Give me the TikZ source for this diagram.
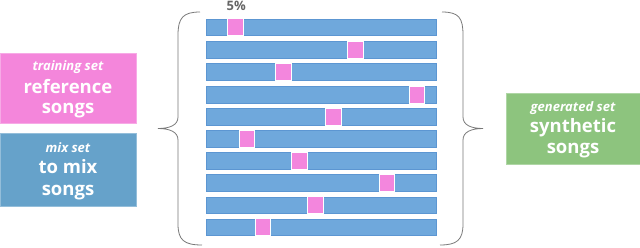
\documentclass[tikz,border=0pt]{standalone}
\usepackage{fontspec}
\setmainfont{Open Sans}
\definecolor{boxpink}{RGB}{244,134,219}
\definecolor{boxblue}{RGB}{102,162,202}
\definecolor{boxgreen}{RGB}{141,196,126}
\definecolor{barblue}{RGB}{111,168,220}
\definecolor{barline}{RGB}{92,150,210}
\definecolor{barpink}{RGB}{243,134,221}
\definecolor{bracegray}{RGB}{120,120,120}
\begin{document}
\begin{tikzpicture}[x=1pt,y=-1pt,
  setbox/.style={draw=#1!70!white, line width=0.8pt, fill=#1, inner sep=0pt},
  small/.style={text=white, font=\fontsize{13}{15}\selectfont\bfseries\itshape, anchor=base, inner sep=0pt},
  big/.style={text=white, font=\fontsize{18.5}{22}\selectfont\bfseries, anchor=base, inner sep=0pt},
  brace/.style={draw=bracegray, line width=0.8pt}]
\useasboundingbox (0,0) rectangle (640,247);
% left boxes
\node[setbox=boxpink, minimum width=136pt, minimum height=70pt] (ref) at (68,88) {};
\node[setbox=boxblue, minimum width=136pt, minimum height=73pt] (mix) at (68,169.5) {};
\node[setbox=boxgreen, minimum width=134pt, minimum height=71pt] (gen) at (573,128.5) {};
\node[small] (reft) at (68,70.7) {training set};
\node[big] (ref1) at (68,93) {reference};
\node[big] (ref2) at (68,113.3) {songs};
\node[small] (mixt) at (68,152.3) {mix set};
\node[big] (mix1) at (68,173.3) {to mix};
\node[big] (mix2) at (68,195.7) {songs};
\node[small] (gent) at (573,111.7) {generated set};
\node[big] (gen1) at (573,132.3) {synthetic};
\node[big] (gen2) at (573,153.3) {songs};
% bars
\foreach \t/\p in {19/227.7, 41.5/347.7, 63.5/275.7, 86.5/409.3, 108.5/325.7, 130.5/239.3, 152.5/291.7, 174.5/379, 197/307.7, 219/255.3} {
  \filldraw[fill=barblue, draw=barline, line width=0.5pt] (206,\t) rectangle (436,\t+16.5);
  \filldraw[fill=barpink, draw=white, line width=1pt] (\p,\t-0.3) rectangle (\p+15.5,\t+16.8);
}
\node[text=bracegray!85!black, font=\fontsize{13}{15}\selectfont\bfseries, anchor=base west, inner sep=0pt] (pct) at (226.5,10.5) {5\%};
% braces
\draw[brace] (200,12) .. controls (183,12) and (178,18) .. (178,35) -- (178,117)
  .. controls (178,125) and (170,128.5) .. (158,128.5)
  .. controls (170,128.5) and (178,132) .. (178,140) -- (178,224)
  .. controls (178,240) and (184,245) .. (202,245);
\draw[brace] (442,12) .. controls (459,12) and (463,18) .. (463,35) -- (463,117)
  .. controls (463,125) and (471,128.5) .. (483,128.5)
  .. controls (471,128.5) and (463,132) .. (463,140) -- (463,224)
  .. controls (463,240) and (457,245) .. (440,245);
\end{tikzpicture}
\end{document}
